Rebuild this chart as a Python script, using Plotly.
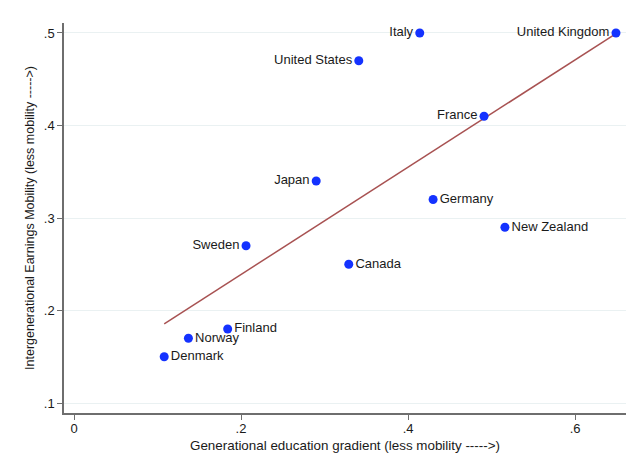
import numpy as np
import plotly.graph_objects as go

countries = ["Italy", "United Kingdom", "United States", "France", "Germany",
             "New Zealand", "Japan", "Sweden", "Canada", "Finland", "Norway", "Denmark"]
edu_gradient = [0.414, 0.649, 0.341, 0.491, 0.430, 0.516, 0.290, 0.206, 0.329, 0.184, 0.137, 0.108]
earn_mobility = [0.50, 0.50, 0.47, 0.41, 0.32, 0.29, 0.34, 0.27, 0.25, 0.18, 0.17, 0.15]
label_pos = ["middle left", "middle left", "middle left", "middle left", "middle right",
             "middle right", "middle left", "middle left", "middle right", "middle right",
             "middle right", "middle right"]

x_ticks = [0, 0.2, 0.4, 0.6]
x_tick_labels = ["0", ".2", ".4", ".6"]
y_ticks = [0.1, 0.2, 0.3, 0.4, 0.5]
y_tick_labels = [".1", ".2", ".3", ".4", ".5"]

x_title = "Generational education gradient (less mobility ----->)"
y_title = "Intergenerational Earnings Mobility (less mobility ----->)"

# OLS fitted line
xa = np.array(edu_gradient)
ya = np.array(earn_mobility)
slope, intercept = np.polyfit(xa, ya, 1)
fit_x = [xa.min(), xa.max()]
fit_y = [intercept + slope * v for v in fit_x]

font_family = "Liberation Sans, Arial, Helvetica, sans-serif"

fig = go.Figure()
fig.add_trace(go.Scatter(
    x=fit_x, y=fit_y, mode="lines",
    line=dict(color="rgb(168,82,82)", width=1.5),
    hoverinfo="skip", showlegend=False))
fig.add_trace(go.Scatter(
    x=edu_gradient, y=earn_mobility, mode="markers+text",
    text=countries, textposition=label_pos,
    textfont=dict(family=font_family, size=13, color="#1a1a1a"),
    marker=dict(color="rgb(20,50,255)", size=9),
    showlegend=False))

fig.update_layout(
    width=622, height=451,
    margin=dict(l=56, r=4, t=15, b=46),
    paper_bgcolor="white", plot_bgcolor="white",
    font=dict(family=font_family, size=13, color="#1a1a1a"),
    showlegend=False,
    annotations=[dict(text=x_title, xref="paper", yref="paper", x=0.5, y=0,
                      xanchor="center", yanchor="middle", yshift=-32,
                      showarrow=False, font=dict(size=13.4))],
)
fig.update_xaxes(
    range=[-0.012, 0.661], tickvals=x_ticks, ticktext=x_tick_labels,
    showgrid=False, zeroline=False, automargin=False,
    showline=True, linecolor="#6e6e6e", linewidth=1.5,
    ticks="outside", ticklen=5, tickcolor="#6e6e6e", tickwidth=1.2,
    tickfont=dict(size=13), ticklabelstandoff=-2,
)
fig.update_yaxes(
    range=[0.0892, 0.5108], tickvals=y_ticks, ticktext=y_tick_labels,
    showgrid=True, gridcolor="#eaf1f2", gridwidth=1, zeroline=False, automargin=False,
    showline=True, linecolor="#6e6e6e", linewidth=1.5,
    ticks="outside", ticklen=5, tickcolor="#6e6e6e", tickwidth=1.2,
    tickfont=dict(size=13), tickangle=0,
    title=dict(text=y_title, font=dict(size=12.5), standoff=6),
)

fig.write_html("out.html")
